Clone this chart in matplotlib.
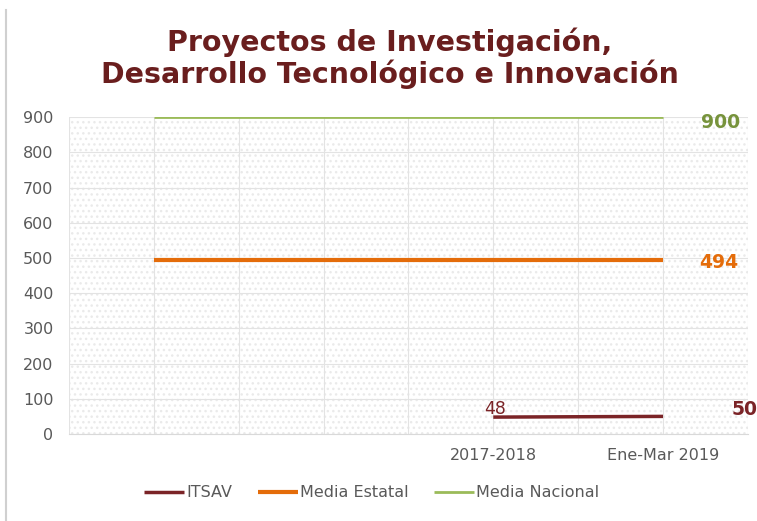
import matplotlib
matplotlib.use("Agg")
import matplotlib.pyplot as plt
import numpy as np

categories = ["", "", "", "", "2017-2018", "", "Ene-Mar 2019"]
itsav = [None, None, None, None, 48, None, 50]
media_estatal = [494, 494, 494, 494, 494, 494, 494]
media_nacional = [900, 900, 900, 900, 900, 900, 900]

c_itsav = "#7B2427"
c_est = "#E46C0A"
c_nac = "#9BBB59"

fig = plt.figure(figsize=(7.57, 5.21), dpi=100)
ax = fig.add_axes([0.091, 0.167, 0.897, 0.608])

x = np.arange(1, len(categories) + 1)
ax.set_xlim(0, len(categories) + 1)
ax.set_ylim(0, 900)

# dotted background
ax.add_patch(plt.Rectangle((0, 0), 1, 1, transform=ax.transAxes, facecolor="white",
                           edgecolor="#EAEAEA", hatch="...", linewidth=0, zorder=0))

ax.set_yticks(np.arange(0, 901, 100))
ax.set_xticks(np.arange(0, len(categories) + 2))
ax.set_xticklabels([""] * (len(categories) + 2))
ax.grid(True, color="#E3E3E3", linewidth=0.8, zorder=1)
ax.set_axisbelow(True)
for s in ["top", "right", "left"]:
    ax.spines[s].set_visible(False)
ax.spines["bottom"].set_color("#D9D9D9")
ax.tick_params(axis="both", length=0, colors="#595959", labelsize=11.5)
ax.tick_params(axis="y", pad=11)

# category labels
for xi, cat in zip(x, categories):
    if cat:
        ax.annotate(cat, (xi, 0), xytext=(0, -10), textcoords="offset points",
                    ha="center", va="top", color="#595959", fontsize=11.5,
                    annotation_clip=False)

# ITSAV: connect available points (gaps bridged as in the source chart)
xi_pts = [xx for xx, v in zip(x, itsav) if v is not None]
yi_pts = [v for v in itsav if v is not None]
ax.plot(xi_pts, yi_pts, color=c_itsav, lw=2.5, label="ITSAV", zorder=3, solid_capstyle="butt")
ax.plot(x, media_estatal, color=c_est, lw=3, label="Media Estatal", zorder=3, solid_capstyle="butt")
ax.plot(x, media_nacional, color=c_nac, lw=2, label="Media Nacional", zorder=3, solid_capstyle="butt")

# data labels
ax.annotate(str(media_nacional[-1]), (x[-1], media_nacional[-1]), xytext=(27, -4),
            textcoords="offset points", color="#77933C", fontsize=13.5, fontweight="bold",
            ha="left", va="center", annotation_clip=False)
ax.annotate(str(media_estatal[-1]), (x[-1], media_estatal[-1]), xytext=(26, -2),
            textcoords="offset points", color=c_est, fontsize=13.5, fontweight="bold",
            ha="left", va="center", annotation_clip=False)
ax.annotate(str(itsav[-1]), (x[-1], itsav[-1]), xytext=(49, 5),
            textcoords="offset points", color=c_itsav, fontsize=13.5, fontweight="bold",
            ha="left", va="center", annotation_clip=False)
ax.annotate(str(itsav[4]), (x[4], itsav[4]), xytext=(1, 6),
            textcoords="offset points", color=c_itsav, fontsize=12.5,
            ha="center", va="center", annotation_clip=False)

fig.text(0.515, 0.889, "Proyectos de Investigación,\nDesarrollo Tecnológico e Innovación",
         ha="center", va="center", fontsize=20.5, fontweight="bold", color="#6A1E1E",
         linespacing=1.1)

leg = fig.legend(loc="center", bbox_to_anchor=(0.491, 0.054), ncol=3, frameon=False,
                 fontsize=11.5, handlelength=2.5, handletextpad=0.15, columnspacing=1.6)
for t in leg.get_texts():
    t.set_color("#595959")

fig.add_artist(plt.Line2D([0.008, 0.008], [0.0, 0.98], color="#D0D0D0", lw=1.5,
                          transform=fig.transFigure))

fig.savefig("out.png", dpi=100)
